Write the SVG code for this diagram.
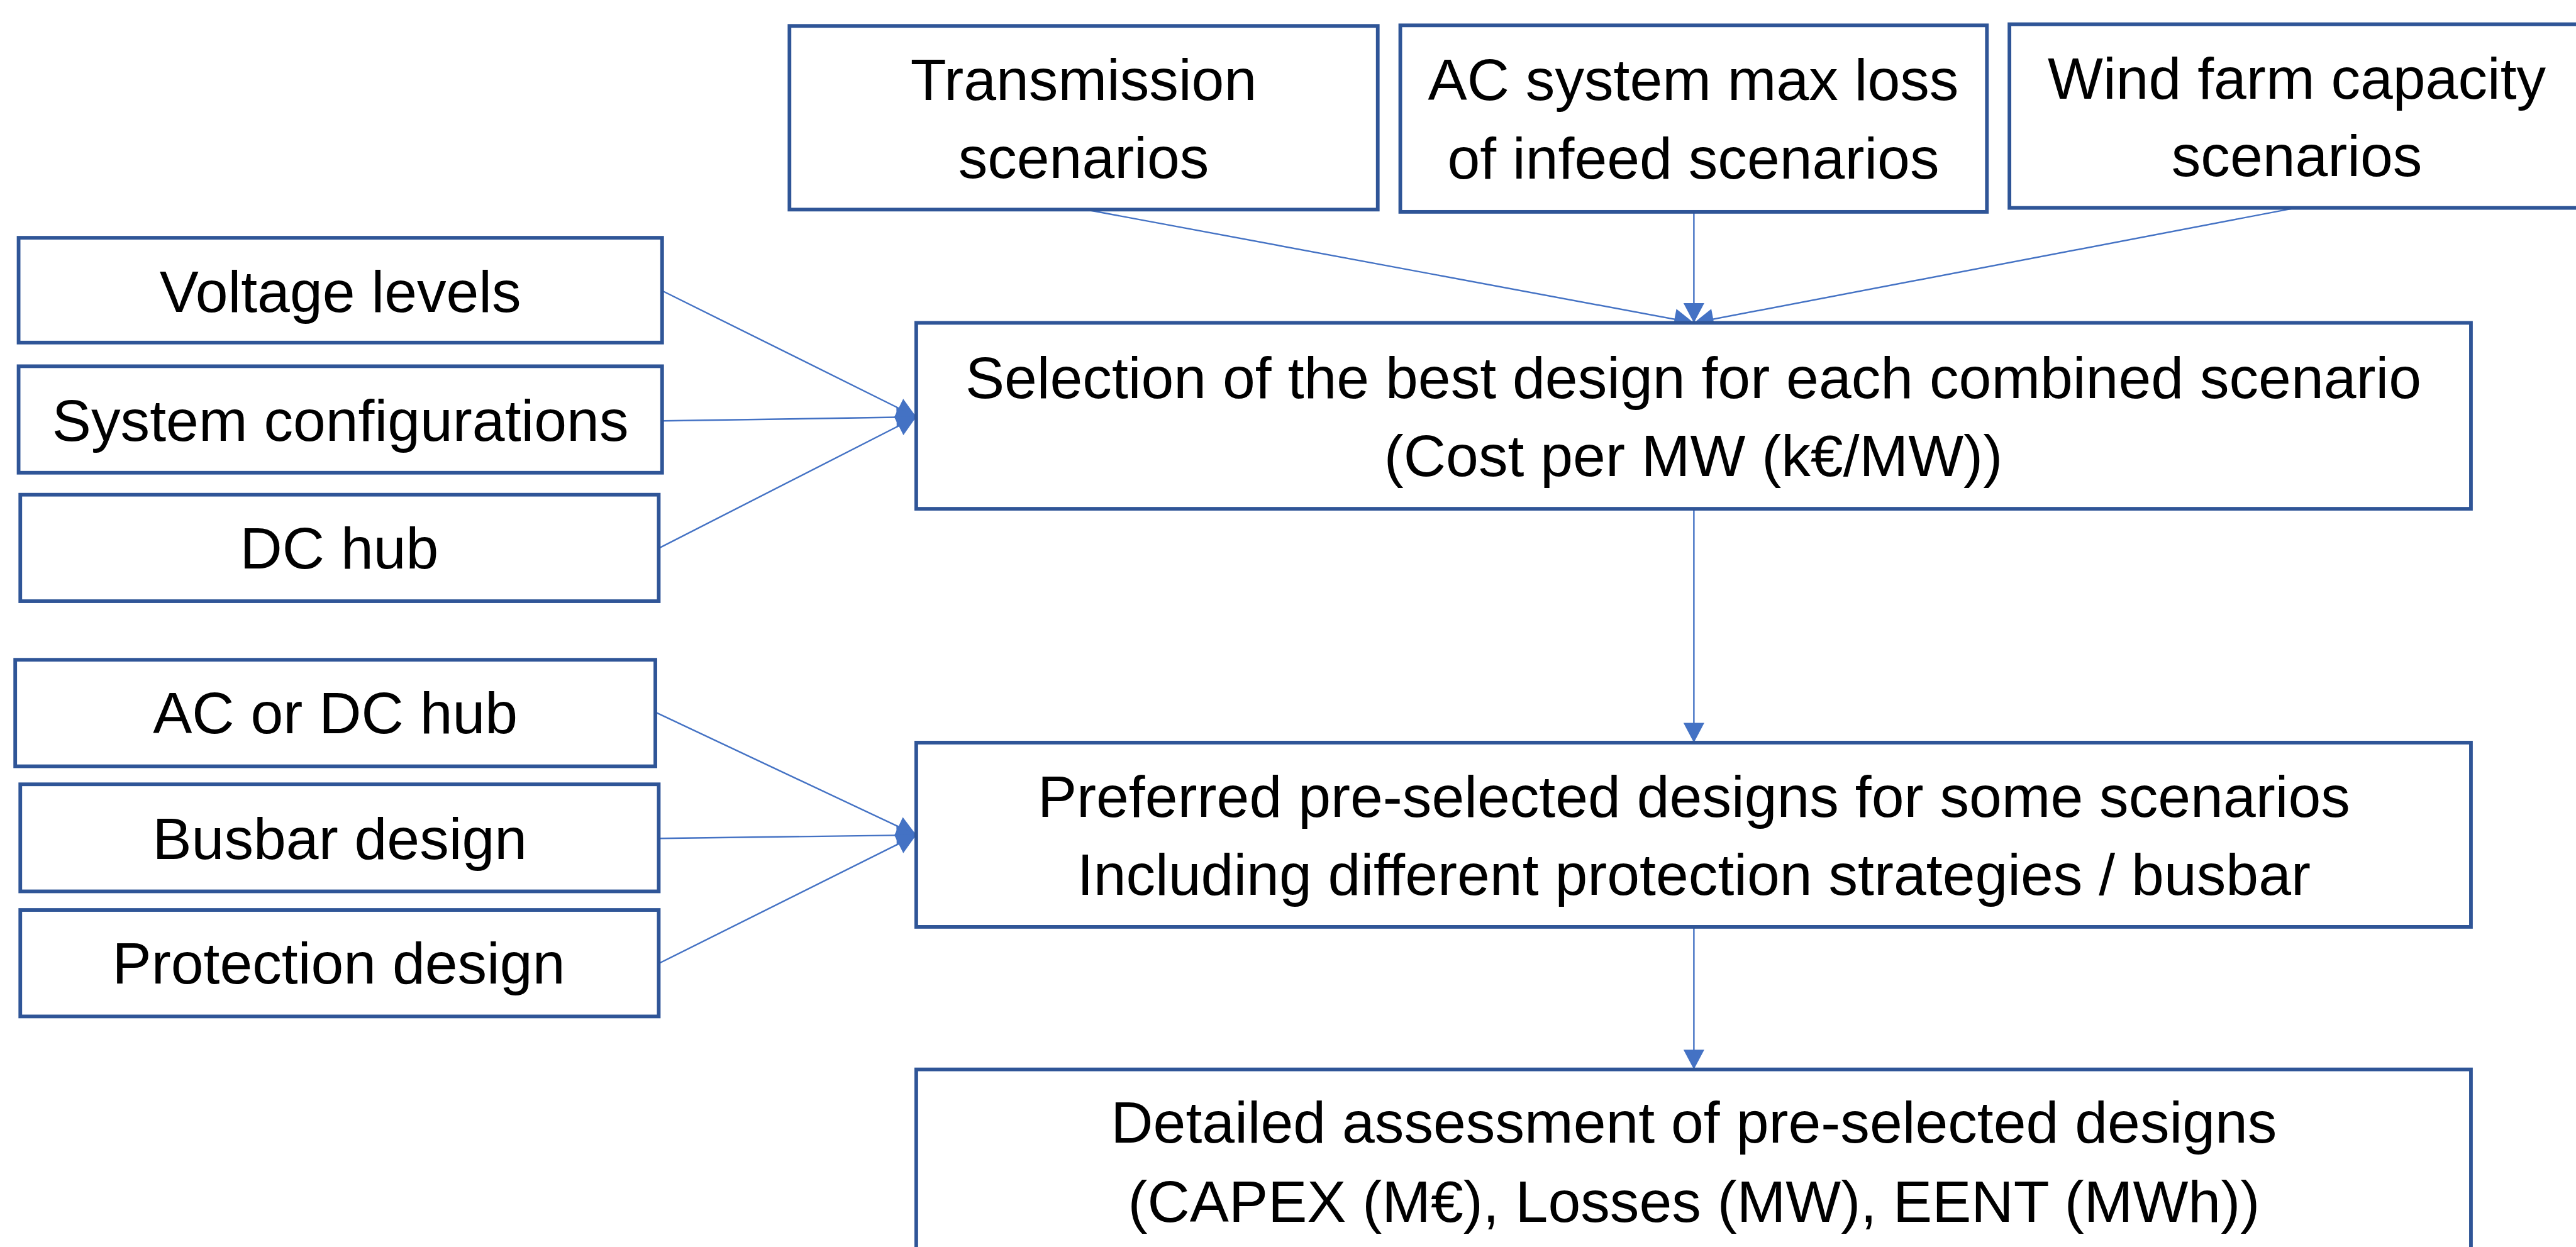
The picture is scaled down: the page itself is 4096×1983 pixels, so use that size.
<svg xmlns="http://www.w3.org/2000/svg" width="4096" height="1983" viewBox="0 0 4096 1983">
<defs>
<style>
.box{fill:#ffffff;stroke:#2F5597;stroke-width:6.5}
.lbl{font-family:"Liberation Sans",Arial,sans-serif;font-size:104px;fill:#000000;text-anchor:middle}
.con{stroke:#4472C4;stroke-width:2.7;fill:none;marker-end:url(#arr)}
</style>
<marker id="arr" markerUnits="userSpaceOnUse" markerWidth="36" markerHeight="38" refX="35" refY="18.5" orient="auto" overflow="visible">
<path d="M0,0 L35,18.5 L0,37 Z" fill="#4472C4"/>
</marker>
</defs>
<rect width="4096" height="1983" fill="#ffffff"/>
<g transform="scale(0.896)">
<g id="connectors">
<line class="con" x1="1927" y1="372" x2="3006" y2="573"/>
<line class="con" x1="3006" y1="377" x2="3006" y2="573"/>
<line class="con" x1="4074" y1="369" x2="3006" y2="573"/>
<line class="con" x1="1177" y1="517" x2="1626" y2="740"/>
<line class="con" x1="1177" y1="747" x2="1626" y2="740"/>
<line class="con" x1="1169" y1="973" x2="1626" y2="740"/>
<line class="con" x1="3006" y1="903" x2="3006" y2="1318"/>
<line class="con" x1="1165" y1="1265" x2="1626" y2="1482"/>
<line class="con" x1="1171" y1="1488" x2="1626" y2="1482"/>
<line class="con" x1="1171" y1="1709" x2="1626" y2="1482"/>
<line class="con" x1="3006" y1="1645" x2="3006" y2="1898"/>
</g>
<g id="transmission">
<rect class="box" x="1401" y="46" width="1044" height="326"/>
<text class="lbl" x="1923" y="178">Transmission</text>
<text class="lbl" x="1923" y="316">scenarios</text>
</g>
<g id="ac-max-loss">
<rect class="box" x="2485" y="45" width="1041" height="331"/>
<text class="lbl" x="3005" y="177">AC system max loss</text>
<text class="lbl" x="3005" y="317">of infeed scenarios</text>
</g>
<g id="wind-farm">
<rect class="box" x="3566" y="43" width="1019" height="326"/>
<text class="lbl" x="4076" y="175">Wind farm capacity</text>
<text class="lbl" x="4076" y="313">scenarios</text>
</g>
<g id="voltage-levels">
<rect class="box" x="33" y="422" width="1142" height="186"/>
<text class="lbl" x="604" y="554">Voltage levels</text>
</g>
<g id="system-configurations">
<rect class="box" x="33" y="650" width="1142" height="189"/>
<text class="lbl" x="604" y="782">System configurations</text>
</g>
<g id="dc-hub">
<rect class="box" x="36" y="878" width="1133" height="189"/>
<text class="lbl" x="602" y="1009">DC hub</text>
</g>
<g id="selection">
<rect class="box" x="1626" y="573" width="2759" height="330"/>
<text class="lbl" x="3005" y="706">Selection of the best design for each combined scenario</text>
<text class="lbl" x="3005" y="845">(Cost per MW (k€/MW))</text>
</g>
<g id="ac-or-dc-hub">
<rect class="box" x="27" y="1171" width="1136" height="189"/>
<text class="lbl" x="595" y="1301">AC or DC hub</text>
</g>
<g id="busbar-design">
<rect class="box" x="36" y="1392" width="1133" height="190"/>
<text class="lbl" x="603" y="1524">Busbar design</text>
</g>
<g id="protection-design">
<rect class="box" x="36" y="1615" width="1133" height="189"/>
<text class="lbl" x="601" y="1745">Protection design</text>
</g>
<g id="preferred">
<rect class="box" x="1626" y="1318" width="2759" height="327"/>
<text class="lbl" x="3006" y="1450">Preferred pre-selected designs for some scenarios</text>
<text class="lbl" x="3006" y="1588">Including different protection strategies / busbar</text>
</g>
<g id="detailed">
<rect class="box" x="1626" y="1898" width="2759" height="360"/>
<text class="lbl" x="3006" y="2028">Detailed assessment of pre-selected designs</text>
<text class="lbl" x="3006" y="2168">(CAPEX (M€), Losses (MW), EENT (MWh))</text>
</g>
</g>
</svg>
